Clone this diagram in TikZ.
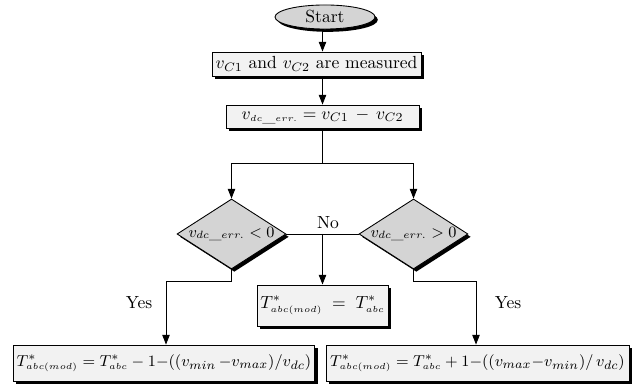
\documentclass[tikz,border=0pt]{standalone}
\usetikzlibrary{shapes.geometric,shadows,arrows.meta}
\definecolor{boxfill}{HTML}{F2F2F2}
\definecolor{decfill}{HTML}{D4D4D4}
\tikzset{
  shad/.style={drop shadow={shadow xshift=1.6pt, shadow yshift=-1.6pt, fill=black, opacity=1}},
  procbox/.style={draw, line width=0.5pt, fill=boxfill, rectangle, inner sep=0pt, align=center, shad},
  decbox/.style={draw, line width=0.5pt, fill=decfill, diamond, aspect=1.55, inner sep=0pt,
     minimum width=62.1pt, minimum height=39.9pt, shad, font=\fontsize{9.2}{11}\selectfont},
  startbox/.style={draw, line width=0.5pt, fill=decfill, ellipse, inner sep=0pt,
     minimum width=57pt, minimum height=13.7pt, shad},
  arr/.style={line width=0.5pt, -{Triangle[length=5.5pt,width=4.2pt]}},
  ln/.style={line width=0.5pt},
  lbl/.style={inner sep=0pt},
  small/.style={font=\fontsize{9.4}{11}\selectfont}
}
\begin{document}
\begin{tikzpicture}[x=0.57pt,y=-0.57pt]
\useasboundingbox (0,0) rectangle (634,389);
\node[startbox] (start) at (325,17) {Start};
\node[procbox, minimum width=119.1pt, minimum height=13.7pt] (box1) at (316.5,64)
  {$v_{C1}$ and $v_{C2}$ are measured};
\node[procbox, minimum width=110pt, minimum height=13.1pt] (box2) at (322.5,116.5)
  {$v_{\scriptscriptstyle dc\_err.} = v_{C1}\,-\,v_{C2}$};
\coordinate (j) at (322.5,163);
\node[decbox] (d1) at (231.5,234) {$v_{dc\_err.} < 0$};
\node[decbox] (d2) at (413.5,234) {$v_{dc\_err.} > 0$};
\node[procbox, minimum width=74.7pt, minimum height=23.4pt] (mid) at (322.5,305.5)
  {$T^{*}_{\scriptscriptstyle abc(mod)} \;=\; T^{*}_{\scriptscriptstyle abc}$};
\node[procbox, small, minimum width=172pt, minimum height=20.5pt] (bl) at (164,363)
  {$T^{*}_{\scriptscriptstyle abc(mod)} = T^{*}_{\scriptscriptstyle abc} - 1{-}((v_{min}\,{-}v_{max})/v_{dc})$};
\node[procbox, small, minimum width=172.7pt, minimum height=20.5pt] (br) at (477.5,363)
  {$T^{*}_{\scriptscriptstyle abc(mod)} = T^{*}_{\scriptscriptstyle abc} + 1{-}((v_{max}{-}v_{min})/\,v_{dc})$};
\node[lbl] (no) at (328,223) {No};
\node[lbl] (yes1) at (139,303) {Yes};
\node[lbl] (yes2) at (508,303) {Yes};
\coordinate (yl) at (166,281);
\coordinate (yr) at (476,281);
% connectors
\draw[arr] (box2.north |- start.south) -- (box2.north |- box1.north);
\draw[arr] (box2.north |- box1.south) -- (box2.north);
\draw[ln] (box2.south) -- (j);
\draw[arr] (j) -| (d1.north);
\draw[arr] (j) -| (d2.north);
\draw[ln] (d1.east) -- (d2.west);
\draw[arr] (d1.east -| mid.north) -- (mid.north);
\draw[arr] (d1.south) |- (yl) -- (yl |- bl.north);
\draw[arr] (d2.south) |- (yr) -- (yr |- br.north);
\end{tikzpicture}
\end{document}
